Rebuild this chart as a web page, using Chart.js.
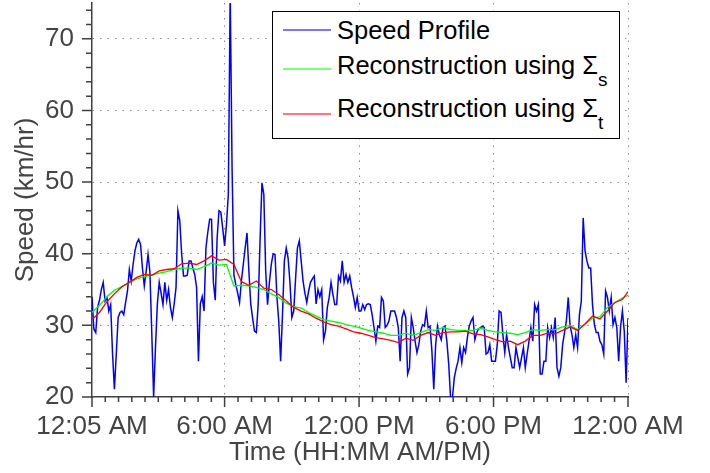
<!DOCTYPE html>
<html>
<head>
<meta charset="utf-8">
<script src="https://cdn.jsdelivr.net/npm/chart.js@4.4.0/dist/chart.umd.min.js"></script>
<style>
  body { margin: 0; background: #fff; }
  #wrap { position: relative; width: 710px; height: 473px; }
  #leyenda {
    position: absolute; left: 272px; top: 11px; width: 346px; height: 126px;
    border: 1px solid #000; background: #fff; color: #000;
    font-family: "Liberation Sans", Arial, Helvetica, sans-serif; font-size: 25.5px;
  }
  .fila { position: absolute; left: 64px; line-height: 25px; white-space: nowrap; }
  .muestra { position: absolute; left: 10px; width: 48px; height: 2px; }
  .sub { position: relative; top: 12px; font-size: 19px; }
</style>
</head>
<body>
<div id="wrap">
  <canvas id="grafica" width="710" height="473"></canvas>
  <div id="leyenda">
    <div class="muestra" style="top:17px;background:#7878ff"></div>
    <div class="fila" style="top:6px">Speed Profile</div>
    <div class="muestra" style="top:56px;background:#78ff78"></div>
    <div class="fila" style="top:41px">Reconstruction using &Sigma;<span class="sub">s</span></div>
    <div class="muestra" style="top:101px;background:#ff7878"></div>
    <div class="fila" style="top:84px">Reconstruction using &Sigma;<span class="sub">t</span></div>
  </div>
</div>
<script>
// Ejes: posiciones (índice de muestra de 5 min) y etiquetas
const xMajorTicks = [1, 72, 144, 216, 288];
const xTickLabels = ['12:05 AM', '6:00 AM', '12:00 PM', '6:00 PM', '12:00 AM'];
const yMajorTicks = [20, 30, 40, 50, 60, 70];

// Perfil de velocidad, una muestra cada 5 minutos (288)
const speedProfile = [
  34.0, 29.5, 29.0, 32.5, 33.5, 35.0, 36.0, 33.4, 33.9, 32.0,
  32.9, 26.0, 21.1, 26.0, 31.1, 31.8, 32.0, 31.5, 33.2, 34.8,
  37.8, 36.2, 38.5, 40.4, 41.5, 42.0, 41.3, 38.0, 35.5, 37.5,
  39.9, 37.5, 29.0, 20.0, 27.0, 33.0, 36.0, 34.5, 32.9, 36.0,
  33.5, 35.0, 32.5, 31.1, 33.0, 35.3, 46.0, 44.6, 40.0, 36.9,
  36.9, 37.0, 39.0, 39.0, 38.0, 37.1, 35.3, 25.0, 33.0, 34.0,
  32.0, 40.8, 43.0, 44.8, 44.8, 36.0, 33.5, 42.2, 46.0, 45.8,
  43.5, 41.1, 44.1, 48.3, 76.5, 52.0, 37.0, 35.7, 34.5, 33.2,
  36.2, 38.5, 40.8, 42.9, 37.6, 33.0, 31.0, 29.2, 29.0, 33.0,
  42.0, 49.9, 48.3, 37.6, 32.9, 36.0, 38.5, 40.0, 39.9, 34.0,
  30.6, 25.0, 31.5, 39.0, 40.8, 39.4, 36.0, 31.1, 32.0, 36.5,
  40.8, 41.8, 39.0, 36.2, 34.5, 33.2, 34.8, 36.0, 36.5, 36.9,
  33.0, 35.0, 34.0, 35.0, 28.0, 29.2, 32.5, 33.9, 36.0, 34.3,
  32.9, 32.9, 36.9, 36.2, 39.0, 36.0, 37.1, 36.0, 36.9, 35.3,
  34.0, 32.5, 33.9, 32.0, 32.0, 32.9, 32.2, 32.9, 33.0, 32.9,
  31.5, 29.7, 27.8, 29.9, 29.7, 33.9, 33.4, 29.7, 30.0, 30.6,
  32.0, 32.0, 32.0, 31.1, 29.7, 25.0, 31.1, 32.0, 31.1, 23.2,
  24.1, 31.1, 29.7, 27.8, 26.2, 27.3, 29.2, 30.1, 29.9, 32.0,
  29.7, 29.9, 26.4, 21.1, 27.3, 29.9, 28.7, 28.0, 29.7, 29.9,
  27.8, 24.6, 19.9, 19.9, 22.7, 24.0, 25.0, 26.9, 24.8, 26.9,
  26.2, 28.3, 29.9, 30.6, 31.1, 28.0, 29.0, 29.5, 29.7, 29.9,
  29.7, 26.0, 26.2, 27.3, 25.0, 25.0, 25.0, 27.3, 32.0, 31.8,
  28.7, 26.2, 28.7, 26.9, 25.5, 24.1, 24.1, 26.9, 25.5, 24.1,
  25.5, 26.9, 24.1, 26.0, 27.8, 29.7, 27.8, 32.9, 32.0, 32.9,
  23.2, 23.2, 25.0, 25.0, 29.7, 28.3, 29.7, 28.3, 31.1, 24.1,
  22.9, 24.1, 27.3, 29.0, 30.6, 33.9, 29.9, 28.7, 26.9, 28.7,
  26.9, 31.5, 33.4, 45.0, 40.4, 39.0, 38.0, 38.0, 32.9, 30.1,
  29.0, 29.0, 27.8, 27.3, 26.0, 34.8, 33.9, 32.0, 33.9, 30.1,
  31.1, 29.7, 25.0, 29.7, 32.0, 29.2, 22.0, 31.0
];

// Reconstrucciones, leídas cada 4 muestras (1, 5, 9, ... 285) y la última (288)
const reconIdx = [];
for (let i = 1; i <= 285; i += 4) reconIdx.push(i);
reconIdx.push(288);

const reconSigmaS = [
  31.8, 32.8, 34.0, 34.9, 35.4, 36.0, 36.5, 36.8, 37.0, 37.3,
  37.5, 37.8, 38.0, 38.0, 37.8, 38.2, 38.7, 38.4, 38.5, 35.5,
  35.6, 35.5, 35.3, 35.0, 34.4, 33.9, 33.1, 32.6, 32.4, 31.8,
  31.3, 30.8, 30.6, 30.4, 30.1, 29.9, 29.6, 29.3, 29.1, 28.9,
  28.6, 28.6, 28.9, 28.6, 29.0, 29.4, 29.3, 29.7, 29.4, 29.3,
  29.3, 29.3, 29.6, 29.3, 29.1, 29.0, 28.9, 28.7, 29.0, 29.4,
  29.3, 29.4, 29.4, 29.8, 30.0, 29.4, 30.2, 31.0, 31.2, 32.5,
  33.2, 33.8, 34.2
];

const reconSigmaT = [
  30.8, 31.8, 33.3, 34.4, 35.4, 36.0, 36.7, 37.1, 37.0, 37.6,
  37.8, 37.9, 38.6, 38.7, 38.5, 39.0, 39.7, 39.1, 39.2, 38.5,
  36.1, 35.6, 36.2, 35.2, 35.0, 34.3, 33.4, 32.5, 32.0, 31.6,
  31.0, 30.5, 30.1, 29.9, 29.5, 29.1, 28.9, 28.6, 28.3, 28.1,
  27.9, 27.6, 28.2, 27.9, 28.6, 29.0, 28.6, 29.0, 29.1, 29.1,
  29.2, 28.8, 28.7, 28.4, 28.0, 27.7, 27.8, 27.3, 27.8, 28.6,
  28.6, 28.9, 28.8, 29.3, 29.8, 29.3, 30.2, 31.3, 30.9, 32.0,
  33.2, 33.6, 34.7
];

const fuente = '"Liberation Sans", Arial, Helvetica, sans-serif';
const colorTexto = '#444444';
const colorEje = '#404040';
const colorRejilla = '#8c8c8c';

// Marcas mayores y menores de los ejes
const marcasEjes = {
  id: 'marcasEjes',
  afterDraw(chart) {
    const ctx = chart.ctx;
    const sx = chart.scales.x;
    const sy = chart.scales.y;
    const area = chart.chartArea;
    ctx.save();
    ctx.strokeStyle = colorEje;
    ctx.lineWidth = 1.5;
    ctx.beginPath();
    for (let i = 0; i < xMajorTicks.length; i++) {
      const px = sx.getPixelForValue(xMajorTicks[i]);
      ctx.moveTo(px, area.bottom);
      ctx.lineTo(px, area.bottom + 10);
      if (i < xMajorTicks.length - 1) {
        const paso = (xMajorTicks[i + 1] - xMajorTicks[i]) / 10;
        for (let k = 1; k < 10; k++) {
          const pm = sx.getPixelForValue(xMajorTicks[i] + k * paso);
          ctx.moveTo(pm, area.bottom);
          ctx.lineTo(pm, area.bottom + 5);
        }
      }
    }
    for (let v = sy.min; v < sy.max; v += 2) {
      const py = sy.getPixelForValue(v);
      const largo = v % 10 === 0 ? 10 : 6;
      ctx.moveTo(area.left - largo, py);
      ctx.lineTo(area.left, py);
    }
    ctx.stroke();
    ctx.restore();
  }
};

new Chart(document.getElementById('grafica'), {
  type: 'line',
  data: {
    datasets: [
      {
        label: 'Speed Profile',
        data: speedProfile.map((v, i) => ({ x: i + 1, y: v })),
        borderColor: '#0000ff',
        borderWidth: 1.5,
        order: 3
      },
      {
        label: 'Reconstruction using Σs',
        data: reconIdx.map((xi, i) => ({ x: xi, y: reconSigmaS[i] })),
        borderColor: '#00ff00',
        borderWidth: 1.3,
        order: 2
      },
      {
        label: 'Reconstruction using Σt',
        data: reconIdx.map((xi, i) => ({ x: xi, y: reconSigmaT[i] })),
        borderColor: '#ff0000',
        borderWidth: 1.3,
        order: 1
      }
    ]
  },
  options: {
    responsive: false,
    animation: false,
    elements: { point: { radius: 0 }, line: { tension: 0 } },
    layout: { padding: { top: 3, right: 82, left: 0, bottom: 0 } },
    plugins: { legend: { display: false }, tooltip: { enabled: false } },
    scales: {
      x: {
        type: 'linear',
        min: 1,
        max: 288,
        afterBuildTicks: s => { s.ticks = xMajorTicks.map(v => ({ value: v })); },
        afterFit: s => { s.height = 76; s.paddingLeft = 0; s.paddingRight = 0; },
        ticks: {
          callback: v => xTickLabels[xMajorTicks.indexOf(v)],
          font: { family: fuente, size: 26 },
          color: colorTexto,
          padding: 14,
          maxRotation: 0,
          autoSkip: false
        },
        grid: {
          color: c => (c.tick && c.tick.value === 1) ? 'transparent' : colorRejilla,
          lineWidth: 1,
          drawTicks: false
        },
        border: { color: colorEje, width: 1.5, dash: [1.5, 6] },
        title: {
          display: true,
          text: 'Time (HH:MM AM/PM)',
          font: { family: fuente, size: 26 },
          color: colorTexto,
          padding: { top: 0, bottom: 5 }
        }
      },
      y: {
        min: 20,
        max: 75,
        afterBuildTicks: s => { s.ticks = yMajorTicks.map(v => ({ value: v })); },
        afterFit: s => { s.width = 92; s.paddingTop = 0; s.paddingBottom = 0; },
        ticks: {
          font: { family: fuente, size: 26 },
          color: colorTexto,
          padding: 18
        },
        grid: {
          color: c => (c.tick && c.tick.value === 20) ? 'transparent' : colorRejilla,
          lineWidth: 1,
          drawTicks: false
        },
        border: { color: colorEje, width: 1.5, dash: [1.5, 6] },
        title: {
          display: true,
          text: 'Speed (km/hr)',
          font: { family: fuente, size: 26 },
          color: colorTexto,
          padding: { top: 10, bottom: 0 }
        }
      }
    }
  },
  plugins: [marcasEjes]
});
</script>
</body>
</html>
